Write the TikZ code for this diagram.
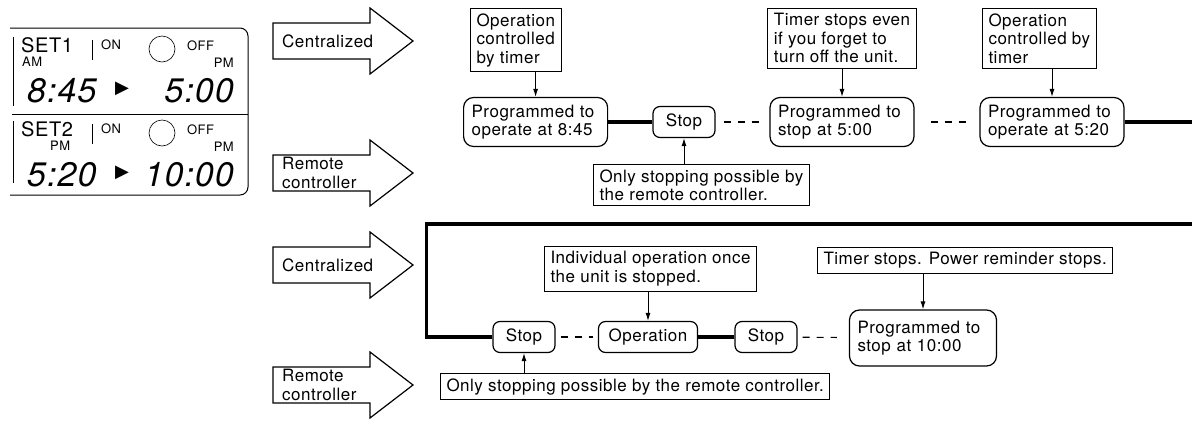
\documentclass[tikz,border=0pt]{standalone}
\usepackage{fontspec}
\setmainfont{TeX Gyre Heros}[LetterSpace=3]
\newfontfamily\symfont{DejaVu Sans}
\usepackage{tikz}
\usetikzlibrary{arrows.meta}

\begin{document}
\begin{tikzpicture}[
    x=1pt, y=-1pt,
    every node/.style={font=\fontsize{17}{18.5}\selectfont},
    note/.style={rectangle, draw, line width=1pt, align=left, inner xsep=6pt, inner ysep=5pt},
    state/.style={rectangle, draw, line width=1.2pt, rounded corners=10pt, text width=128pt, align=left, minimum height=49pt, inner xsep=8pt},
    stopbox/.style={rectangle, draw, line width=1.2pt, rounded corners=7pt, minimum width=62pt, minimum height=31pt},
    arrow/.style={-{Latex[length=8pt,width=5pt]}, line width=1pt},
    run/.style={line width=3.5pt},
    idle/.style={line width=1.1pt, dash pattern=on 7pt off 7pt, shorten <=5pt, shorten >=5pt},
    bigarrow/.style={draw, line width=1.2pt},
    lcd/.style={font=\fontsize{34}{34}\selectfont\itshape, inner sep=0pt},
    tag/.style={font=\fontsize{13}{13}\selectfont, inner sep=0pt}
]
\useasboundingbox (0,0) rectangle (1192,421);

% Timer panel
\draw[line width=1pt, rounded corners=8pt] (10,28) -- (248,28) -- (248,195) -- (10,195);
\draw[line width=1pt] (12,114) -- (248,114);
\draw[line width=1pt] (13,37) -- (13,106) (13,121) -- (13,183);
\foreach \dy/\set/\ax/\half/\on/\off [count=\i] in {0/SET1/22/AM/8:45/5:00, 84/SET2/50/PM/5:20/10:00} {
    \node[anchor=base west, inner sep=0pt, font=\fontsize{20}{20}\selectfont] (set\i) at (21,52+\dy) {\set};
    \node[tag, anchor=base west] (half\i) at (\ax,66+\dy) {\half};
    \draw[line width=1pt] (92,40+\dy) -- (92,60+\dy);
    \node[tag, anchor=base west] (on\i) at (101,49+\dy) {ON};
    \draw[line width=0.6pt] (162,49+\dy) circle (13);
    \node[tag, anchor=base west] (off\i) at (187,50+\dy) {OFF};
    \node[tag, anchor=base east] (pm\i) at (234,67+\dy) {PM};
    \node[lcd, anchor=base west] (ontime\i) at (27,102+\dy) {\on};
    \node[inner sep=0pt, font=\symfont\fontsize{18}{18}\selectfont] (play\i) at (122,89+\dy) {▶};
    \node[lcd, anchor=base east] (offtime\i) at (234,102+\dy) {\off};
}

% Control modes
\foreach \cy/\txt [count=\i] in {41/Centralized, 173/{Remote\\controller}, 265/Centralized, 385/{Remote\\controller}} {
    \draw[bigarrow] (273,\cy-18) -- (370,\cy-18) -- (370,\cy-33) -- (413,\cy) -- (370,\cy+33) -- (370,\cy+18) -- (273,\cy+18) -- cycle;
    \node[anchor=west, align=left, inner sep=0pt] (mode\i) at (282,\cy) {\txt};
}

% First set
\node[state, anchor=west] (p845) at (463,122) {Programmed to\\operate at 8:45};
\node[stopbox] (stop1) at (684,122) {Stop};
\node[state] (p500) at (842,122) {Programmed to\\stop at 5:00};
\node[state] (p520) at (1052,122) {Programmed to\\operate at 5:20};
\coordinate (edge1) at (1192,122);

\node[note, anchor=north west] (opc1) at (470,8) {Operation\\controlled\\by timer};
\node[note, anchor=north] (timer) at (842,8) {Timer stops even\\if you forget to\\turn off the unit.};
\node[note, anchor=north west] (opc2) at (982,8) {Operation\\controlled by\\timer};
\node[note, anchor=north west] (only1) at (593,164) {Only stopping possible by\\the remote controller.};

\draw[run] (p845) -- (stop1);
\draw[idle, shorten <=8pt, shorten >=8pt] (stop1) -- (p500);
\draw[idle, shorten <=16pt, shorten >=12pt] (p500) -- (p520);
\draw[run] (p520) -- (edge1);

\draw[arrow] (opc1.south -| p845.north) -- (p845.north);
\draw[arrow] (timer.south -| p500.north) -- (p500.north);
\draw[arrow] (opc2.south -| p520.north) -- (p520.north);
\draw[arrow] (only1.north -| stop1.south) -- (stop1.south);

% Second set
\coordinate (edge2) at (1192,224);
\node[stopbox] (stop2) at (524,337) {Stop};
\node[stopbox, minimum width=99pt] (oper) at (648,337) {Operation};
\node[stopbox] (stop3) at (766,337) {Stop};
\node[state, text width=131pt, minimum height=56pt] (p1000) at (923,338) {Programmed to\\stop at 10:00};

\node[note, anchor=north west] (indiv) at (544,246) {Individual operation once\\the unit is stopped.};
\node[note, anchor=north west] (tpow) at (817,247) {Timer stops. Power reminder stops.};
\node[note, anchor=north west] (only2) at (440,373) {Only stopping possible by the remote controller.};

\draw[run] (edge2) -| ([xshift=-66pt]stop2.west) -- (stop2.west);
\draw[idle] (stop2) -- (oper);
\draw[run] (oper) -- (stop3);
\draw[idle, shorten >=12pt] (stop3) -- (p1000);

\draw[arrow] (indiv.south -| oper.north) -- (oper.north);
\draw[arrow] (tpow.south -| p1000.north) -- (p1000.north);
\draw[arrow] (only2.north -| stop2.south) -- (stop2.south);

\end{tikzpicture}
\end{document}
